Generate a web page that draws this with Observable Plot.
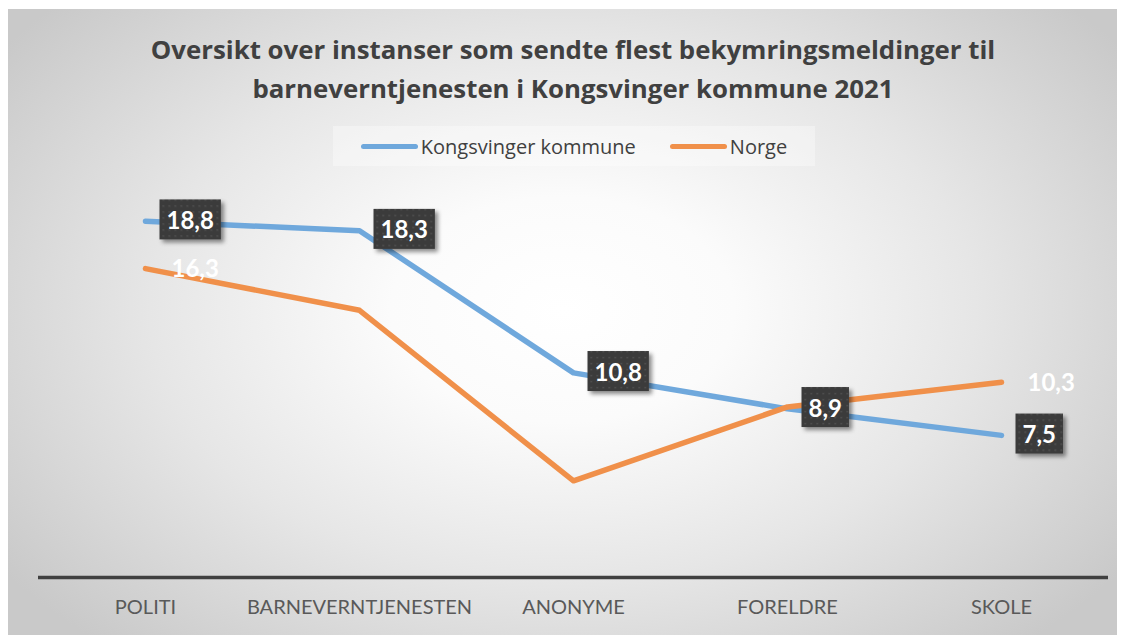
<!DOCTYPE html>
<html><head><meta charset="utf-8">
<script src="https://cdn.jsdelivr.net/npm/d3@7"></script>
<script src="https://cdn.jsdelivr.net/npm/@observablehq/plot@0.6"></script>
<style>
body{margin:0;background:#fff;width:1122px;height:635px;overflow:hidden;position:relative;font-family:Lato,"Open Sans",sans-serif;}
#frame{position:absolute;left:8px;top:9px;width:1109px;height:626px;
 background:radial-gradient(ellipse 62% 72% at 50% 48%, #ffffff 0%, #fbfbfb 25%, #e6e6e6 60%, #c9c9c9 100%);}
#title{position:absolute;left:0;width:1146px;top:30px;text-align:center;font-family:"Open Sans",Lato,sans-serif;font-weight:bold;font-size:25.8px;line-height:39px;color:#404040;}
#legend{position:absolute;left:333px;top:126px;width:482px;height:40px;background:rgba(255,255,255,0.35);display:flex;align-items:center;justify-content:center;font-family:"Open Sans",Lato,sans-serif;font-size:20px;color:#404040;}
.sw{display:inline-block;width:57px;height:5px;border-radius:3px;margin-right:3px;}
#chart{position:absolute;left:0;top:180px;}
</style></head>
<body>
<div id="frame"></div>
<div id="title">Oversikt over instanser som sendte flest bekymringsmeldinger til<br>barneverntjenesten i Kongsvinger kommune 2021</div>
<div id="legend"><span class="sw" style="background:#6fa8dc"></span><span>Kongsvinger kommune</span><span style="width:34px"></span><span class="sw" style="background:#f0904a"></span><span>Norge</span></div>
<div id="chart"></div>
<script>
const categories = ["POLITI", "BARNEVERNTJENESTEN", "ANONYME", "FORELDRE", "SKOLE"];
const kongsvinger = [18.8, 18.3, 10.8, 8.9, 7.5];
const norge = [16.3, 14.1, 5.1, 9.0, 10.3];
const norgeLabelled = ["POLITI", "SKOLE"];

const kData = categories.map((c, i) => ({cat: c, value: kongsvinger[i]}));
const nData = categories.map((c, i) => ({cat: c, value: norge[i]}));
const fmt = v => v.toFixed(1).replace(".", ",");

const plot = Plot.plot({
  width: 1122, height: 455,
  marginLeft: 38, marginRight: 14, marginTop: 18, marginBottom: 58,
  style: {background: "transparent", fontFamily: "Lato, 'Open Sans', sans-serif", overflow: "visible"},
  x: {type: "point", domain: categories, padding: 0.5, label: null},
  y: {domain: [0, 20], axis: null},
  marks: [
    Plot.ruleY([0], {stroke: "#404040", strokeWidth: 3.5}),
    Plot.axisX({tickSize: 0, tickPadding: 22, fontSize: 20, fill: "#595959", label: null}),
    Plot.line(kData, {x: "cat", y: "value", stroke: "#6fa8dc", strokeWidth: 5.5, strokeLinecap: "round", strokeLinejoin: "round"}),
    Plot.line(nData, {x: "cat", y: "value", stroke: "#f0904a", strokeWidth: 5.5, strokeLinecap: "round", strokeLinejoin: "round"}),
    Plot.text(nData.filter(d => norgeLabelled.includes(d.cat)), {x: "cat", y: "value", text: d => fmt(d.value), textAnchor: "start", dx: 26, dy: 1, fill: "white", fontWeight: "bold", fontSize: 24}),
    Plot.text(kData, {x: "cat", y: "value", text: d => fmt(d.value), textAnchor: "start", dx: 21, fill: "white", fontWeight: "bold", fontSize: 24, className: "klabel"})
  ]
});
document.getElementById("chart").appendChild(plot);

// dark textured boxes behind Kongsvinger labels
const svg = d3.select(plot);
const defs = svg.insert("defs", ":first-child");
const pat = defs.append("pattern").attr("id", "dots").attr("width", 6).attr("height", 6).attr("patternUnits", "userSpaceOnUse");
pat.append("rect").attr("width", 6).attr("height", 6).attr("fill", "#3b3b3b");
pat.append("rect").attr("x", 2).attr("y", 2).attr("width", 1.5).attr("height", 1.5).attr("fill", "#545454");
const f = defs.append("filter").attr("id", "shadow").attr("x", "-20%").attr("y", "-20%").attr("width", "150%").attr("height", "160%");
f.append("feDropShadow").attr("dx", 3).attr("dy", 3).attr("stdDeviation", 2).attr("flood-color", "#000").attr("flood-opacity", 0.45);

svg.selectAll("g.klabel text").each(function() {
  const b = this.getBBox();
  const g = this.parentNode;
  const cy = b.y + b.height / 2;
  d3.select(g).insert("rect", () => this)
    .attr("x", b.x - 7).attr("y", cy - 20)
    .attr("width", b.width + 14).attr("height", 40)
    .attr("fill", "url(#dots)").attr("filter", "url(#shadow)")
    .attr("transform", this.getAttribute("transform"));
});
</script>
</body></html>
